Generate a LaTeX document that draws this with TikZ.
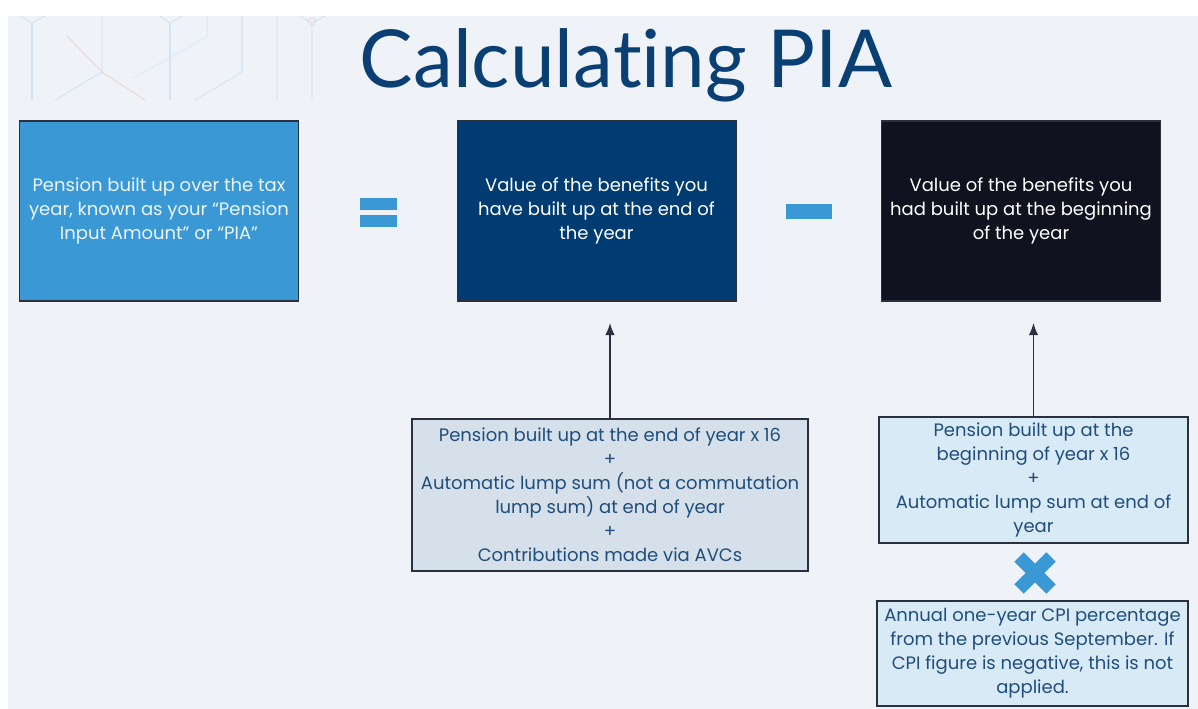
\documentclass[tikz,border=0pt]{standalone}
\usepackage{fontspec}
\setmainfont{Poppins}
\newfontfamily\titlefont[Ligatures=NoCommon]{Lato}
\usetikzlibrary{positioning,arrows.meta}

\definecolor{panel}{HTML}{EFF3F7}
\definecolor{piablue}{HTML}{3A98D5}
\definecolor{endnavy}{HTML}{003C71}
\definecolor{startink}{HTML}{10121F}
\definecolor{endgrey}{HTML}{D5E0EA}
\definecolor{startpale}{HTML}{D9EAF7}
\definecolor{boxedge}{HTML}{2A3040}
\definecolor{bodyink}{HTML}{1F4E7C}
\definecolor{titleink}{HTML}{0A3F73}
\definecolor{hexblue}{HTML}{D3E5F5}
\definecolor{hexred}{HTML}{EBD6D8}

\tikzset{
  piabox/.style={draw=boxedge, line width=1pt, inner sep=0pt, align=center,
    font=\fontsize{13.5}{18}\selectfont},
  toprow/.style={piabox, minimum width=209pt, minimum height=135pt, text=white},
  partbox/.style={piabox, text=bodyink},
  piaarrow/.style={-{Latex[length=9pt,width=7pt]}, draw=boxedge, line width=1pt, shorten >=16pt},
  hexline/.style={line width=0.8pt, draw=hexblue},
}

\begin{document}
\begin{tikzpicture}[x=0.75pt,y=-0.75pt]
\useasboundingbox (0,0) rectangle (1198,709);
\fill[panel] (8,16) rectangle (1198,709);

% faint hexagon pattern behind the title
\draw[hexline] (20,16) -- (32,23) -- (45,16);
\draw[hexline] (32,23) -- (32,100);
\draw[hexline] (55,100) -- (102,72);
\draw[hexline, opacity=0.5] (102,16) -- (102,72);
\draw[hexline, draw=hexred] (67,36) -- (102,72) -- (145,100);
\draw[hexline] (160,16) -- (170,23) -- (182,16);
\draw[hexline] (170,23) -- (170,100);
\draw[hexline, opacity=0.6] (207,16) -- (207,37) -- (133,78);
\draw[hexline] (242,16) -- (242,72) -- (195,100);
\draw[hexline, opacity=0.5] (277,16) -- (277,100);
\draw[hexline] (300,16) -- (312,23) -- (325,16);
\draw[hexline, opacity=0.6] (312,23) -- (312,100);
\draw[hexred, line width=0.6pt] (312,22) circle (4);

\node[anchor=base, text=titleink, font=\titlefont\fontsize{60}{62}\selectfont]
  (title) at (626,88) {Calculating PIA};

% top row: PIA = end value - start value
\node[toprow, fill=piablue, text=white!90!piablue] (pia) at (159,211)
  {Pension built up over the tax\\year, known as your “Pension\\Input Amount” or “PIA”};
\node[toprow, fill=endnavy] (valend) at (596.5,211)
  {Value of the benefits you\\have built up at the end of\\the year};
\node[toprow, fill=startink] (valstart) at (1021,211)
  {Value of the benefits you\\had built up at the beginning\\of the year};

% equals and minus signs
\fill[piablue] (360,198) rectangle (397,210);
\fill[piablue] (360,215) rectangle (397,227);
\fill[piablue] (786,204) rectangle (832,219);

% how each value is worked out
\node[partbox, fill=endgrey, minimum width=297pt, minimum height=114pt] (endcalc) at (610,495)
  {Pension built up at the end of year x 16\\+\\Automatic lump sum (not a commutation\\lump sum) at end of year\\+\\Contributions made via AVCs};
\node[partbox, fill=startpale, minimum width=231.75pt, minimum height=94.5pt] (startcalc) at (1033.5,480)
  {Pension built up at the\\beginning of year x 16\\+\\Automatic lump sum at end of\\year};
\node[partbox, fill=startpale, minimum width=233.25pt, minimum height=78.75pt] (cpi) at (1032.5,653.5)
  {Annual one-year CPI percentage\\from the previous September. If\\CPI figure is negative, this is not\\applied.};

\draw[piaarrow] (endcalc.north) -- (endcalc.north |- valend.south);
\draw[piaarrow] (startcalc.north) -- (startcalc.north |- valstart.south);

% times sign between the start value and CPI
\draw[piablue, line width=10pt] (1019,557) -- (1051,589);
\draw[piablue, line width=10pt] (1019,589) -- (1051,557);
\end{tikzpicture}
\end{document}
